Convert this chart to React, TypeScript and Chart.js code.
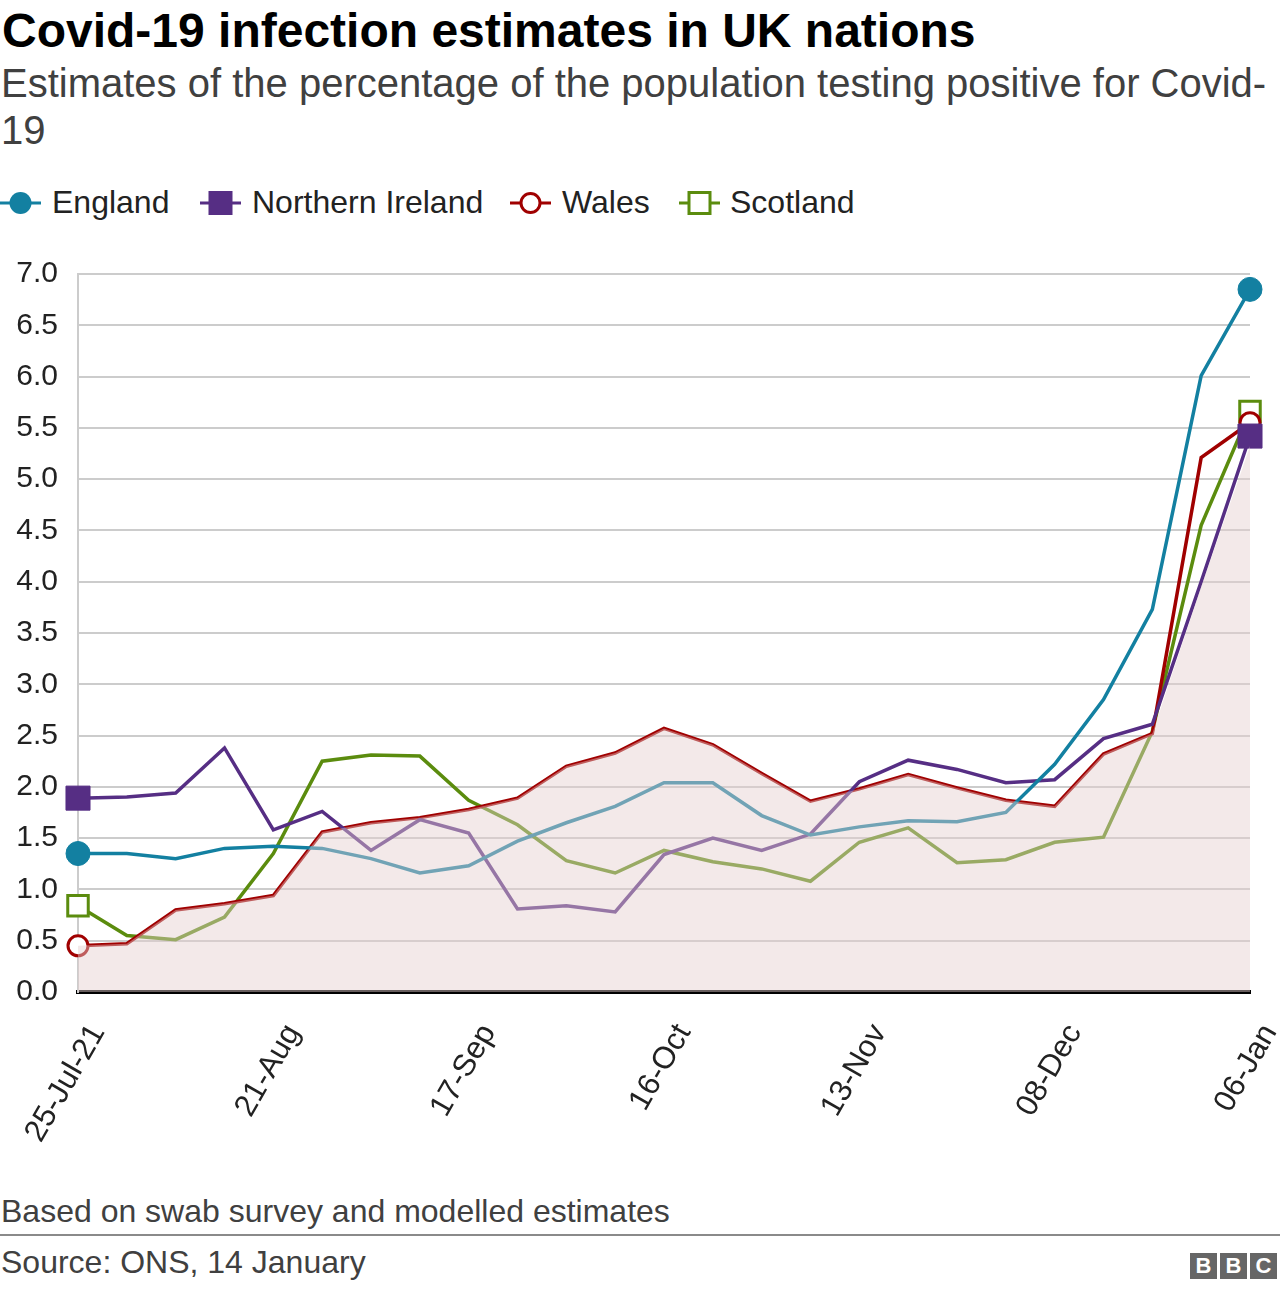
import React, { useEffect, useRef } from "react";
import { Chart, registerables } from "chart.js";

Chart.register(...registerables);

// ---- Data ----
const tickLabels = ["25-Jul-21", "21-Aug", "17-Sep", "16-Oct", "13-Nov", "08-Dec", "06-Jan"];
const categories = [
  "25-Jul-21", "", "", "", "21-Aug", "", "", "", "17-Sep", "", "", "", "16-Oct",
  "", "", "", "13-Nov", "", "", "", "08-Dec", "", "", "", "06-Jan",
];

const england = [1.35, 1.35, 1.3, 1.4, 1.42, 1.4, 1.3, 1.16, 1.23, 1.47, 1.65, 1.81, 2.04, 2.04, 1.72, 1.53, 1.61, 1.67, 1.66, 1.75, 2.22, 2.85, 3.73, 6.01, 6.85];
const northernIreland = [1.89, 1.9, 1.94, 2.38, 1.58, 1.76, 1.38, 1.68, 1.55, 0.81, 0.84, 0.78, 1.34, 1.5, 1.38, 1.54, 2.05, 2.26, 2.17, 2.04, 2.07, 2.47, 2.61, 4.0, 5.42];
const wales = [0.45, 0.47, 0.8, 0.86, 0.94, 1.56, 1.65, 1.7, 1.78, 1.89, 2.2, 2.33, 2.57, 2.41, 2.13, 1.86, 1.98, 2.12, 1.99, 1.87, 1.81, 2.32, 2.52, 5.21, 5.55];
const scotland = [0.84, 0.55, 0.51, 0.73, 1.35, 2.25, 2.31, 2.3, 1.87, 1.63, 1.28, 1.16, 1.38, 1.27, 1.2, 1.08, 1.46, 1.6, 1.26, 1.29, 1.46, 1.51, 2.54, 4.55, 5.66];
// light shaded band seen behind / over the lines in the picture
const shadedTop = [0.45, 0.47, 0.8, 0.86, 0.94, 1.56, 1.65, 1.7, 1.78, 1.89, 2.2, 2.33, 2.57, 2.41, 2.13, 1.86, 1.98, 2.12, 1.99, 1.87, 1.81, 2.32, 2.52, 3.95, 5.32];

const yTicks = [0, 0.5, 1, 1.5, 2, 2.5, 3, 3.5, 4, 4.5, 5, 5.5, 6, 6.5, 7];

const C_ENG = "#1380A1";
const C_NI = "#562E84";
const C_WAL = "#A00000";
const C_SCO = "#5B8C0E";

const FONT = "'Liberation Sans', Arial, Helvetica, sans-serif";

function endsOnly(r: number) {
  return (ctx: any) => {
    const n = ctx.dataset.data.length;
    return ctx.dataIndex === 0 || ctx.dataIndex === n - 1 ? r : 0;
  };
}

export default function App() {
  const ref = useRef<HTMLCanvasElement | null>(null);

  useEffect(() => {
    document.body.style.margin = "0";
    const canvas = ref.current;
    if (!canvas) return;
    const lineBase = {
      borderWidth: 3.5,
      tension: 0,
      clip: false as any,
      pointBorderWidth: 3,
      order: 1,
    };
    const chart = new Chart(canvas, {
      type: "line",
      data: {
        labels: categories,
        datasets: [
          {
            label: "shade",
            data: shadedTop,
            fill: "origin",
            backgroundColor: "rgba(228,206,206,0.45)",
            borderColor: "rgba(0,0,0,0)",
            borderWidth: 0,
            pointRadius: 0,
            order: 0,
          },
          {
            ...lineBase,
            label: "England",
            data: england,
            borderColor: C_ENG,
            backgroundColor: C_ENG,
            pointBackgroundColor: C_ENG,
            pointBorderColor: C_ENG,
            pointStyle: "circle",
            pointRadius: endsOnly(12),
            pointBorderWidth: 1,
          },
          {
            ...lineBase,
            label: "Northern Ireland",
            data: northernIreland,
            borderColor: C_NI,
            backgroundColor: C_NI,
            pointBackgroundColor: C_NI,
            pointBorderColor: C_NI,
            pointStyle: "rect",
            pointRadius: endsOnly(17),
            pointBorderWidth: 1,
          },
          {
            ...lineBase,
            label: "Wales",
            data: wales,
            borderColor: C_WAL,
            backgroundColor: "#ffffff",
            pointBackgroundColor: "#ffffff",
            pointBorderColor: C_WAL,
            pointStyle: "circle",
            pointRadius: endsOnly(10),
          },
          {
            ...lineBase,
            label: "Scotland",
            data: scotland,
            borderColor: C_SCO,
            backgroundColor: "#ffffff",
            pointBackgroundColor: "#ffffff",
            pointBorderColor: C_SCO,
            pointStyle: "rect",
            pointRadius: endsOnly(14.5),
          },
        ],
      },
      options: {
        responsive: false,
        animation: false,
        events: [],
        layout: { padding: { top: 34, right: 30, left: 0, bottom: 0 } },
        plugins: {
          legend: { display: false },
          tooltip: { enabled: false },
        },
        scales: {
          x: {
            type: "category",
            offset: false,
            grid: { display: false, drawTicks: false },
            border: { display: true, color: "#000000", width: 4 },
            ticks: {
              autoSkip: false,
              minRotation: 60,
              maxRotation: 60,
              padding: 26,
              labelOffset: 20,
              color: "#222222",
              font: { family: FONT, size: 31 },
              callback: (_v: any, i: number) => (tickLabels.includes(categories[i]) ? categories[i] : ""),
            },
            afterFit: (s: any) => {
              s.height = 188;
              s.paddingLeft = 0;
              s.paddingRight = 0;
            },
          },
          y: {
            min: 0,
            max: 7,
            afterBuildTicks: (s: any) => {
              s.ticks = yTicks.map((v) => ({ value: v }));
            },
            ticks: {
              padding: 20,
              color: "#222222",
              font: { family: FONT, size: 30 },
              callback: (v: any) => Number(v).toFixed(1),
            },
            grid: { color: "#cccccc", lineWidth: 2, drawTicks: false },
            border: { display: true, color: "#cccccc", width: 2 },
            afterFit: (s: any) => {
              s.width = 78;
            },
          },
        },
      },
    });
    return () => chart.destroy();
  }, []);

  const legendItems = [
    { label: "England", color: C_ENG, shape: "circle", filled: true, iconX: 0, textX: 52 },
    { label: "Northern Ireland", color: C_NI, shape: "rect", filled: true, iconX: 200, textX: 252 },
    { label: "Wales", color: C_WAL, shape: "circle", filled: false, iconX: 510, textX: 562 },
    { label: "Scotland", color: C_SCO, shape: "rect", filled: false, iconX: 679, textX: 730 },
  ];

  return (
    <div style={{ position: "relative", width: 1280, height: 1290, fontFamily: FONT, background: "#fff", overflow: "hidden" }}>
      <div style={{ position: "absolute", left: 2, top: 7, fontSize: 48, lineHeight: "48px", fontWeight: 700, color: "#000", whiteSpace: "nowrap" }}>
        Covid-19 infection estimates in UK nations
      </div>
      <div style={{ position: "absolute", left: 1, top: 60, fontSize: 40, lineHeight: "47px", color: "#404040", whiteSpace: "nowrap" }}>
        Estimates of the percentage of the population testing positive for Covid-
        <br />
        19
      </div>
      {legendItems.map((it) => (
        <React.Fragment key={it.label}>
          <svg style={{ position: "absolute", left: it.iconX, top: 188 }} width={42} height={30}>
            <line x1={0} y1={15} x2={41} y2={15} stroke={it.color} strokeWidth={3} />
            {it.shape === "circle" ? (
              <circle cx={20.5} cy={15} r={it.filled ? 11 : 9.5} fill={it.filled ? it.color : "#fff"} stroke={it.color} strokeWidth={it.filled ? 0 : 3} />
            ) : it.filled ? (
              <rect x={8.5} y={3} width={24} height={24} fill={it.color} />
            ) : (
              <rect x={10} y={4.5} width={21} height={21} fill="#fff" stroke={it.color} strokeWidth={3} />
            )}
          </svg>
          <div style={{ position: "absolute", left: it.textX, top: 186, fontSize: 32, lineHeight: "32px", color: "#222", whiteSpace: "nowrap" }}>
            {it.label}
          </div>
        </React.Fragment>
      ))}
      <canvas ref={ref} width={1280} height={944} style={{ position: "absolute", left: 0, top: 236, width: 1280, height: 944 }} />
      <div style={{ position: "absolute", left: 1, top: 1195, fontSize: 32, lineHeight: "32px", color: "#404040", whiteSpace: "nowrap" }}>
        Based on swab survey and modelled estimates
      </div>
      <div style={{ position: "absolute", left: 0, top: 1234, width: 1280, height: 2, background: "#8a8a8a" }} />
      <div style={{ position: "absolute", left: 1, top: 1246, fontSize: 32, lineHeight: "32px", color: "#404040", whiteSpace: "nowrap" }}>
        Source: ONS, 14 January
      </div>
      <div style={{ position: "absolute", left: 1190, top: 1253, display: "flex", gap: 3 }}>
        {["B", "B", "C"].map((ch, i) => (
          <div key={i} style={{ width: 27, height: 26, background: "#666666", color: "#fff", fontWeight: 700, fontSize: 22, lineHeight: "26px", textAlign: "center" }}>
            {ch}
          </div>
        ))}
      </div>
    </div>
  );
}
